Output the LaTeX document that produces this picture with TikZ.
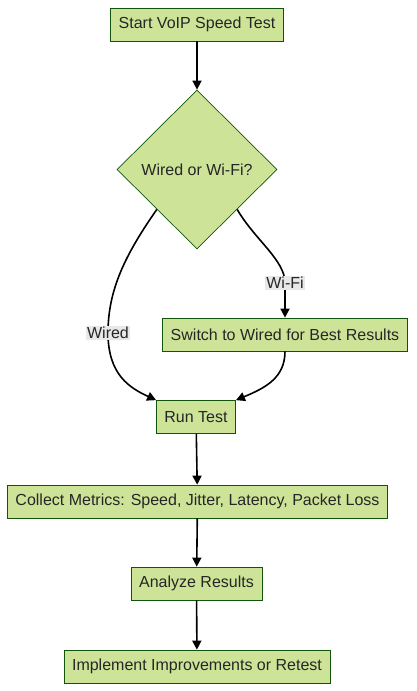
\documentclass[tikz,border=0pt]{standalone}
\usepackage{fontspec}
\setmainfont{Liberation Sans}
\usetikzlibrary{shapes,arrows.meta,positioning}

\definecolor{boxfill}{HTML}{CDE498}
\definecolor{boxline}{HTML}{13540C}
\definecolor{labelgray}{HTML}{E8E8E8}

\begin{document}
\begin{tikzpicture}[
    x=1pt, y=-1pt,
    every node/.style={text=black!85, font=\fontsize{16}{19}\selectfont},
    box/.style={draw=boxline, fill=boxfill, line width=0.7pt,
    minimum height=33pt, inner xsep=8pt},
    decision/.style={diamond, draw=boxline, fill=boxfill, line width=0.7pt,
    minimum width=160pt, minimum height=159pt, inner sep=0pt},
    flow/.style={line width=1.6pt, -{Triangle[length=9pt,width=9pt]}},
    edge label/.style={fill=labelgray, inner sep=1pt}
    ]

\useasboundingbox (0,0) rectangle (416,691);

% steps
\node[box] (start) at (197,24.5) {Start VoIP Speed Test};
\node[decision] (wired) at (197,169.5) {Wired or Wi-Fi?};
\node[box] (switch) at (285,334.5) {Switch to Wired for Best Results};
\node[box] (run) at (196,417) {Run Test};
\node[box] (collect) at (197.5,501.5) {Collect Metrics: Speed, Jitter, Latency, Packet Loss};
\node[box] (analyze) at (196.5,583.5) {Analyze Results};
\node[box] (improve) at (197,666.5) {Implement Improvements or Retest};

% straight arrows
\draw[flow] (start) -- (wired);
\draw[flow] (run) -- (collect);
\draw[flow] (collect) -- (analyze);
\draw[flow] (analyze) -- (improve);

% branches
\draw[flow] (wired.south west) .. controls (125,255) and (108,290) ..
    (108,333) node[edge label] {Wired}
    .. controls (108,375) and (130,388) .. (run.north west);
\draw[flow] (wired.south east) .. controls (255,240) and (285,260) ..
    (285,283) node[edge label] {Wi-Fi} -- (switch.north);
\draw[flow] (switch.south) .. controls (285,378) and (265,388) .. (run.north east);

\end{tikzpicture}
\end{document}
